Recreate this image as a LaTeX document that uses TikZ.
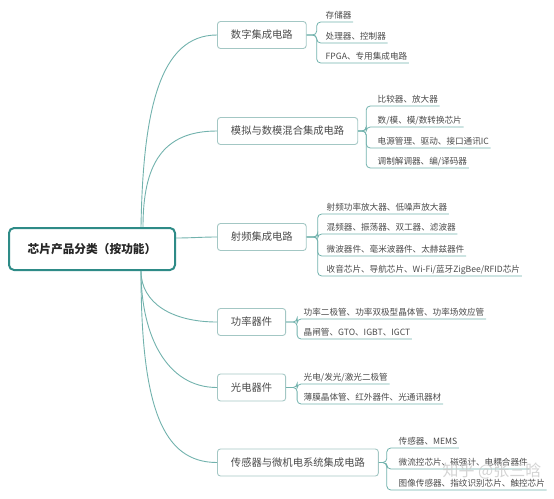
\documentclass[tikz,border=0pt]{standalone}
\usepackage{fontspec}
\setmainfont{Noto Sans CJK SC}
\usetikzlibrary{calc}
\definecolor{rootc}{HTML}{2E8B87}
\definecolor{linec}{HTML}{72B2AD}
\definecolor{boxc}{HTML}{A3C7C4}
\definecolor{txt}{HTML}{4A4A4A}
\begin{document}
\begin{tikzpicture}[x=1pt,y=-1pt,
 rootbox/.style={draw=rootc, line width=2pt, rounded corners=5pt, minimum width=166pt, minimum height=42pt, font=\fontsize{11.7}{12}\selectfont\bfseries, text=black!85, inner sep=0pt},
 topic/.style={draw=boxc, line width=0.9pt, rounded corners=3pt, minimum height=27pt, inner xsep=13.5pt, inner ysep=0pt, font=\fontsize{10.3}{12}\selectfont, text=txt, anchor=west},
 leaf/.style={font=\fontsize{8.6}{10}\selectfont, text=txt, inner xsep=1.5pt, inner ysep=2pt, text height=6.5pt, text depth=1.5pt, anchor=south west},
 conn/.style={draw=linec, line width=0.9pt},
 sub/.style={draw=linec, line width=0.8pt, rounded corners=4pt}]
\useasboundingbox (0,0) rectangle (554,498);
\node[rootbox] (root) at (92,249) {芯片产品分类（按功能）};
\node[topic] (t1) at (217,35) {数字集成电路};
\node[topic] (t2) at (217,131) {模拟与数模混合集成电路};
\node[topic] (t3) at (217,237) {射频集成电路};
\node[topic] (t4) at (217,322) {功率器件};
\node[topic] (t5) at (217,387.5) {光电器件};
\node[topic] (t6) at (217,462.5) {传感器与微机电系统集成电路};
% root connectors
\draw[conn] (root.north east) ++(-35,0) .. controls +(2,-118) and +(-57,0) .. (t1.west);
\draw[conn] (root.north east) ++(-33,0) .. controls +(0,-62) and +(-55,0) .. (t2.west);
\draw[conn] (root.east) ++(0,-11) .. controls +(15,0) and +(-15,0) .. (t3.west);
\draw[conn] (root.south east) ++(-35,0) .. controls +(0,32) and +(-45,0) .. (t4.west);
\draw[conn] (root.south east) ++(-35,0) .. controls +(0,65) and +(-50,0) .. (t5.west);
\draw[conn] (root.south east) ++(-35,0) .. controls +(0,135) and +(-55,0) .. (t6.west);
% junctions
\coordinate (j1) at ($(t1.east)+(10,0)$);
\coordinate (j2) at ($(t2.east)+(8,0)$);
\coordinate (j3) at ($(t3.east)+(11,0)$);
\coordinate (j4) at ($(t4.east)+(11,0)$);
\coordinate (j5) at ($(t5.east)+(11,0)$);
\coordinate (j6) at ($(t6.east)+(8,0)$);
% group 1
\node[leaf] (a1) at (324,22) {存储器};
\node[leaf] (a2) at (324,43) {处理器、控制器};
\node[leaf] (a3) at (324,63) {FPGA、专用集成电路};
\foreach \l in {a1,a2,a3} \draw[sub] (t1.east) -- (j1) |- (\l.south east);
% group 2
\node[leaf] (b1) at (376,106) {比较器、放大器};
\node[leaf] (b2) at (376,127) {数/模、模/数转换芯片};
\node[leaf] (b3) at (376,148) {电源管理、驱动、接口通讯IC};
\node[leaf] (b4) at (376,168) {调制解调器、编/译码器};
\foreach \l in {b1,b2,b3,b4} \draw[sub] (t2.east) -- (j2) |- (\l.south east);
% group 3
\node[leaf] (c1) at (325,214) {射频功率放大器、低噪声放大器};
\node[leaf] (c2) at (325,234) {混频器、振荡器、双工器、滤波器};
\node[leaf] (c3) at (325,256) {微波器件、毫米波器件、太赫兹器件};
\node[leaf] (c4) at (325,276) {收音芯片、导航芯片、Wi-Fi/蓝牙ZigBee/RFID芯片};
\foreach \l in {c1,c2,c3,c4} \draw[sub] (t3.east) -- (j3) |- (\l.south east);
% group 4
\node[leaf] (d1) at (302,319) {功率二极管、功率双极型晶体管、功率场效应管};
\node[leaf] (d2) at (302,339) {晶闸管、GTO、IGBT、IGCT};
\foreach \l in {d1,d2} \draw[sub] (t4.east) -- (j4) |- (\l.south east);
% group 5
\node[leaf] (e1) at (302,384) {光电/发光/激光二极管};
\node[leaf] (e2) at (302,404) {薄膜晶体管、红外器件、光通讯器材};
\foreach \l in {e1,e2} \draw[sub] (t5.east) -- (j5) |- (\l.south east);
% group 6
\node[leaf] (f1) at (397,448) {传感器、MEMS};
\node[leaf] (f2) at (397,469) {微流控芯片、磁强计、电耦合器件};
\node[leaf] (f3) at (397,490) {图像传感器、指纹识别芯片、触控芯片};
\foreach \l in {f1,f2,f3} \draw[sub] (t6.east) -- (j6) |- (\l.south east);
% watermark
\node[font=\fontsize{16}{16}\selectfont, text=gray!40, opacity=0.85] (wm) at (492,471) {知乎 @张三晗};
\end{tikzpicture}
\end{document}
